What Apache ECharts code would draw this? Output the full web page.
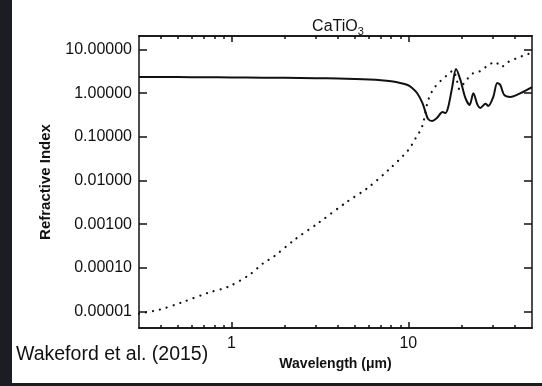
<!DOCTYPE html>
<html><head><meta charset="utf-8">
<script src="https://cdn.jsdelivr.net/npm/echarts@6/dist/echarts.min.js"></script>
<style>
html,body{margin:0;padding:0;background:#1c1d22;overflow:hidden;}
#paper{position:absolute;left:12px;top:0;width:530px;height:383px;background:#fff;}
#chart{position:absolute;left:0;top:0;width:542px;height:386px;}
</style></head><body>
<div id="paper"></div><div id="chart"></div>
<script>
// Real part (solid line): wavelength (um) and value
const nWavelength = [0.3, 0.4, 0.5, 0.7, 1.0, 1.5, 2.0, 3.0, 4.0, 5.0, 6.0, 7.0, 8.0, 9.0, 9.9, 10.5, 11.2, 12.0, 12.5, 12.9, 13.6, 14.5, 15.6, 16.2, 16.8, 17.7, 18.6, 19.7, 21.0, 22.2, 23.3, 24.6, 25.5, 27.3, 28.3, 30.2, 31.8, 33.1, 34.8, 37.7, 43.0, 50.0];
const nValues     = [2.36, 2.35, 2.34, 2.32, 2.30, 2.27, 2.25, 2.21, 2.17, 2.12, 2.06, 1.98, 1.87, 1.72, 1.54, 1.32, 1.01, 0.60, 0.37, 0.26, 0.23, 0.27, 0.37, 0.35, 0.48, 1.38, 3.6, 2.0, 0.78, 0.54, 1.0, 0.54, 0.46, 0.57, 0.51, 0.82, 1.71, 1.54, 0.91, 0.82, 1.0, 1.38];
// Imaginary part (dotted line)
const kWavelength = [0.3, 0.39, 0.52, 0.74, 0.96, 1.26, 1.52, 1.73, 2.27, 3.1, 4.47, 5.87, 7.71, 10.0, 11.1, 11.8, 12.2, 12.8, 13.3, 14.0, 15.2, 16.6, 17.9, 18.9, 19.4, 20.4, 21.5, 23.3, 25.5, 27.9, 31.0, 33.5, 36.7, 41.3, 45.8, 50.0];
const kValues     = [9.0e-6, 1.1e-5, 1.6e-5, 2.7e-5, 3.7e-5, 6.9e-5, 1.3e-4, 1.8e-4, 4.4e-4, 1.07e-3, 3.2e-3, 6.7e-3, 0.0174, 0.05, 0.10, 0.15, 0.23, 0.60, 0.91, 1.32, 1.9, 2.6, 3.3, 1.8, 1.25, 1.6, 2.1, 2.9, 3.2, 4.2, 5.2, 4.0, 5.2, 6.4, 7.5, 8.4];

const xMajorTicks = [1, 10];
const xMinorTicks = [0.4, 0.5, 0.6, 0.7, 0.8, 0.9, 2, 3, 4, 5, 6, 7, 8, 9, 20, 30, 40];
const yTicks = [0.00001, 0.0001, 0.001, 0.01, 0.1, 1, 10];
const xRange = [0.3, 50];
const yRange = [4.2e-6, 20.4];

const titleMain = 'CaTiO';
const titleSub = '3';
const xName = 'Wavelength (\u03bcm)';
const yName = 'Refractive Index';
const credit = 'Wakeford et al. (2015)';

const FONT = '"Liberation Sans", Arial, Helvetica, sans-serif';
const INK = '#111111';

const chart = echarts.init(document.getElementById('chart'), null, {renderer: 'canvas'});

function xAx(position, ticks, len, labels) {
  return {
    type: 'log', position: position, min: xRange[0], max: xRange[1],
    axisLine: {show: true, lineStyle: {color: INK, width: 1.5}},
    axisTick: {show: true, inside: true, length: len, customValues: ticks, lineStyle: {color: INK, width: 1.5}},
    axisLabel: labels ? {show: true, customValues: xMajorTicks, formatter: v => String(Math.round(v)), fontSize: 16, fontFamily: FONT, color: INK, margin: 8} : {show: false},
    splitLine: {show: false}, minorTick: {show: false}
  };
}
function yAx(position, labels) {
  return {
    type: 'log', position: position, min: yRange[0], max: yRange[1],
    axisLine: {show: true, lineStyle: {color: INK, width: 1.5}},
    axisTick: {show: true, inside: true, length: 8, customValues: yTicks, lineStyle: {color: INK, width: 1.5}},
    axisLabel: labels ? {show: true, customValues: yTicks, formatter: v => Number(v).toFixed(5), fontSize: 16, fontFamily: FONT, color: INK, margin: 7} : {show: false},
    splitLine: {show: false}, minorTick: {show: false}
  };
}

const xAxes = [xAx('bottom', xMajorTicks, 6, true), xAx('bottom', xMinorTicks, 3, false), xAx('top', xMajorTicks, 6, false), xAx('top', xMinorTicks, 3, false)];
xAxes[0].name = xName;
xAxes[0].nameLocation = 'middle';
xAxes[0].nameGap = 29;
xAxes[0].nameTextStyle = {fontSize: 14, fontWeight: 'bold', fontFamily: FONT, color: INK};

const yAxes = [yAx('left', true), yAx('right', false)];
yAxes[0].name = yName;
yAxes[0].nameLocation = 'middle';
yAxes[0].nameRotate = 90;
yAxes[0].nameGap = 86;
yAxes[0].nameTextStyle = {fontSize: 15, fontWeight: 'bold', fontFamily: FONT, color: INK};

chart.setOption({
  animation: false,
  backgroundColor: 'transparent',
  title: {
    text: '{a|' + titleMain + '}{b|' + titleSub + '}',
    left: 333, top: 12, textAlign: 'center',
    textStyle: {
      fontWeight: 'normal',
      rich: {
        a: {fontSize: 16, fontWeight: 'normal', fontFamily: FONT, color: INK, lineHeight: 20, verticalAlign: 'middle'},
        b: {fontSize: 11, fontWeight: 'normal', fontFamily: FONT, color: INK, lineHeight: 12, verticalAlign: 'bottom'}
      }
    }
  },
  grid: {left: 139, right: 10, top: 36, bottom: 58, containLabel: false, outerBoundsMode: 'none'},
  xAxis: xAxes,
  yAxis: yAxes,
  graphic: [{
    type: 'text', left: 16, top: 345,
    style: {text: credit, fontSize: 19.5, fontFamily: FONT, fill: '#111'}
  }],
  series: [
    {
      type: 'line', name: 'n', xAxisIndex: 0, yAxisIndex: 0,
      data: nWavelength.map((w, i) => [w, nValues[i]]),
      showSymbol: false, smooth: 0.3,
      lineStyle: {color: INK, width: 2}
    },
    {
      type: 'line', name: 'k', xAxisIndex: 0, yAxisIndex: 0,
      data: kWavelength.map((w, i) => [w, kValues[i]]),
      showSymbol: false, smooth: 0.3,
      lineStyle: {color: INK, width: 2.2, type: [0.1, 7], cap: 'round'}
    }
  ]
});
</script>
</body></html>
